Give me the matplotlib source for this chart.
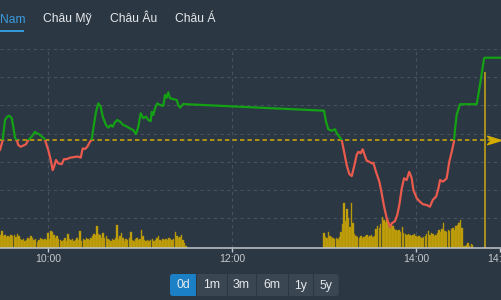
import matplotlib
matplotlib.use("Agg")
import matplotlib.pyplot as plt
from matplotlib.patches import Rectangle, FancyBboxPatch
from matplotlib.path import Path

# ---------------- data ----------------
# time in minutes after 09:00, price in index points (grid step = 1)
price_time = [28.7, 30.45, 31.96, 33.46, 34.76, 36.33, 37.37, 38.48, 39.59, 40.63,
              42.19, 43.89, 45.65, 47.15, 49.37, 51.52, 52.63, 54.33, 55.89, 57.39,
              58.04, 60.20, 61.76, 63.07, 63.91, 65.22, 66.72, 68.94, 70.44, 72.20,
              74.35, 77.61, 79.76, 81.33, 82.63, 84.13, 85.63, 87.39, 88.50, 89.54,
              91.31, 92.81, 94.37, 95.68, 97.83, 99.33, 100.89, 102.20, 103.70, 105.20,
              106.96, 109.11, 110.22, 113.48, 115.63, 117.39, 118.89, 120.46, 122.15, 123.91,
              125.41, 126.98, 127.63, 128.67, 129.78, 131.28, 133.04, 135.20, 136.31, 137.41,
              138.46, 139.57, 141.72, 143.94, 144.98, 146.09, 147.20, 148.24, 150.0,
              240.0, 241.3, 242.8, 245.0, 247.2, 248.3, 250.0, 251.6, 253.1, 254.8,
              256.5, 258.1, 259.6, 261.3, 262.4, 263.9, 265.2, 266.7, 267.9, 269.5,
              271.1, 272.2, 273.9, 276.1, 277.6, 279.1, 280.9, 283.1, 284.2, 286.3,
              287.8, 289.1, 290.7, 292.2, 293.9, 295.6, 297.2, 298.3, 300.5, 302.2,
              304.4, 307.0, 309.1, 310.9, 313.1, 314.6, 315.7, 317.4, 318.9, 320.0,
              321.7, 323.3, 324.8, 325.4, 326.5, 328.7, 339.6, 341.7, 344.4, 345.0, 355.4]
price = [2.41, 2.77, 3.48, 3.60, 3.63, 3.55, 3.24, 2.84, 2.77, 2.59,
         2.53, 2.57, 2.62, 2.77, 2.89, 3.06, 3.01, 2.97, 2.89, 2.83,
         2.77, 2.41, 2.06, 1.70, 1.82, 2.06, 1.94, 1.91, 2.09, 2.09,
         2.14, 2.17, 2.18, 2.14, 2.47, 2.45, 2.53, 2.71, 2.77, 3.18,
         3.77, 4.07, 3.95, 3.60, 3.30, 3.21, 3.30, 3.24, 3.40, 3.48,
         3.42, 3.30, 3.28, 3.18, 3.12, 2.98, 3.24, 3.72, 3.54, 3.60,
         3.48, 3.44, 3.77, 3.66, 3.89, 4.07, 4.01, 3.98, 4.37, 4.27,
         4.46, 4.25, 4.22, 4.19, 4.01, 3.92, 3.98, 4.05, 4.04,
         3.81, 3.42, 3.15, 3.10, 3.15, 3.01, 2.89, 2.76, 2.35, 1.88,
         1.56, 1.49, 1.82, 2.24, 2.35, 2.30, 2.44, 2.20, 2.03, 2.00,
         1.94, 1.96, 1.64, 1.29, 0.88, 0.43, -0.01, -0.31, -0.19, -0.11,
         0.11, 0.46, 1.05, 1.41, 1.35, 1.64, 1.41, 0.99, 0.70, 0.60,
         0.49, 0.46, 0.40, 0.64, 0.76, 1.05, 1.35, 1.29, 1.35, 1.41,
         2.00, 2.35, 2.73, 3.12, 3.66, 4.04, 4.04, 4.72, 5.67, 5.69, 5.69]
ref_price = 2.77

vol_morning_start = 29
vol_morning = [13, 17, 12, 13, 11, 12, 11, 13, 12, 13, 11, 14, 12, 9, 8, 9, 7, 8, 10, 9,
               12, 10, 8, 9, 6, 8, 10, 9, 8, 9, 8, 15, 9, 17, 16, 13, 10, 12, 9, 8,
               7, 8, 10, 7, 14, 9, 8, 9, 7, 8, 10, 8, 17, 7, 9, 8, 10, 9, 8, 10,
               12, 14, 13, 22, 14, 13, 10, 15, 10, 12, 9, 8, 7, 9, 8, 10, 23, 9, 12, 15,
               10, 7, 9, 8, 10, 16, 8, 7, 9, 10, 8, 9, 18, 12, 8, 7, 8, 7, 8, 9,
               7, 8, 10, 12, 8, 7, 9, 8, 9, 8, 10, 9, 8, 9, 16, 12, 10, 11, 13, 8,
               5, 2]
vol_afternoon_start = 240
vol_afternoon = [15, 11, 10, 16, 12, 11, 10, 9, 10, 9, 11, 16, 24, 45, 27, 39, 30, 21, 45, 25,
                 14, 12, 11, 10, 12, 10, 11, 12, 13, 11, 12, 13, 11, 12, 19, 22, 20, 24, 31, 28,
                 26, 29, 22, 20, 25, 22, 19, 18, 17, 18, 16, 21, 15, 14, 13, 14, 13, 12, 13, 14,
                 12, 11, 12, 11, 10, 11, 12, 14, 17, 13, 15, 14, 12, 13, 15, 18, 16, 19, 25, 17,
                 16, 18, 17, 19, 20, 18, 22, 23, 25, 28, 20, 2, 2, 3, 5, 2, 4, 3]
atc_time = 345
atc_volume = 176

tick_minutes = [60, 180, 300, 355]
tick_labels = ["10:00", "12:00", "14:00", "14:55"]
grid_minutes = [60, 180, 300]
grid_prices = [0, 1, 2, 3, 4, 5, 6]
tabs = ["Việt Nam", "Châu Mỹ", "Châu Âu", "Châu Á"]
buttons = ["0d", "1m", "3m", "6m", "1y", "5y"]

# ---------------- style ----------------
BG = "#2b3743"
GRID = "#46525e"
GREEN = "#14a114"
RED = "#ea5a4d"
GOLD = "#c6a30d"
REF = "#c9a404"
AXIS = "#c3c8cd"
TEXT = "#e6e9ec"
BLUE = "#3a9be0"
FONT = ["Liberation Sans", "DejaVu Sans"]
plt.rcParams["font.family"] = FONT

W, H = 501, 300
XMIN, XMAX = 28.696, 355.43
fig = plt.figure(figsize=(W / 100, H / 100), dpi=100)
fig.patch.set_facecolor(BG)
pos = [0, 52 / H, 1, 199 / H]

# grid axes (background)
axg = fig.add_axes(pos)
axg.set_facecolor(BG)
axg.set_xlim(XMIN, XMAX)
axg.set_ylim(-1.065, 6.0)
for gp in grid_prices:
    axg.axhline(gp, color=GRID, lw=0.8, ls=(0, (3, 3)), zorder=1)
for gm in grid_minutes:
    axg.axvline(gm, color=GRID, lw=0.8, ls=(0, (3, 3)), zorder=1)
axg.axis("off")

# volume axes
axv = fig.add_axes(pos)
axv.patch.set_visible(False)
axv.set_xlim(XMIN, XMAX)
axv.set_ylim(0, 199)
mt = [vol_morning_start + i for i in range(len(vol_morning))]
at = [vol_afternoon_start + i for i in range(len(vol_afternoon))]
axv.bar(mt, vol_morning, width=0.92, color=GOLD, edgecolor="#a88b08", linewidth=0.3)
axv.bar(at, vol_afternoon, width=0.92, color=GOLD, edgecolor="#a88b08", linewidth=0.3)
axv.bar([atc_time], [atc_volume], width=1.3, color="#a68e1e", linewidth=0)
for s in ["top", "left", "right"]:
    axv.spines[s].set_visible(False)
axv.spines["bottom"].set_color(AXIS)
axv.spines["bottom"].set_linewidth(1.1)
axv.set_yticks([])
axv.set_xticks(tick_minutes)
axv.set_xticklabels(tick_labels)
axv.tick_params(axis="x", colors=AXIS, length=3, width=1, labelsize=7.6, pad=1.5)

# price axes
ax = fig.add_axes(pos)
ax.patch.set_visible(False)
ax.set_xlim(XMIN, XMAX)
ax.set_ylim(-1.065, 6.0)
ax.axis("off")
ax.axhline(ref_price, color=REF, lw=1.2, ls=(0, (2.6, 1.9)), zorder=2)
gl, = ax.plot(price_time, price, color=GREEN, lw=1.6, zorder=3,
              solid_joinstyle="round", solid_capstyle="round")
gl.set_clip_path(Rectangle((0, ref_price), 1000, 100, transform=ax.transData))
rl, = ax.plot(price_time, price, color=RED, lw=1.6, zorder=3,
              solid_joinstyle="round", solid_capstyle="round")
rl.set_clip_path(Rectangle((0, ref_price - 100), 1000, 100, transform=ax.transData))
arrow = Path([(-1, -0.6), (1, 0), (-1, 0.6), (-0.45, 0), (-1, -0.6)],
             [Path.MOVETO, Path.LINETO, Path.LINETO, Path.LINETO, Path.CLOSEPOLY])
ax.plot([350.9], [ref_price], marker=arrow, ms=10, color="#d4ac00", mec="#d4ac00",
        zorder=4, clip_on=False)

# UI overlay (tabs and range buttons), in pixel coordinates
ui = fig.add_axes([0, 0, 1, 1])
ui.set_xlim(0, W)
ui.set_ylim(H, 0)
ui.axis("off")
ui.patch.set_visible(False)

tab_x = [25.5, 43, 110, 175]
for i, (t, x) in enumerate(zip(tabs, tab_x)):
    ui.text(x, 19, t, ha="right" if i == 0 else "left", va="center",
            fontsize=8.7, color=BLUE if i == 0 else TEXT)
ui.add_patch(Rectangle((-2, 29.5), 26, 2, color="#3498db", lw=0))

edges = [170, 196, 226.7, 256, 287.7, 312.7, 338.7]
y0, y1 = 274, 296
ui.add_patch(FancyBboxPatch((edges[0], y0), edges[-1] - edges[0], y1 - y0,
                            boxstyle="round,pad=0,rounding_size=3",
                            fc="#3a4652", ec="none"))
ui.add_patch(FancyBboxPatch((edges[0], y0), edges[1] - edges[0], y1 - y0,
                            boxstyle="round,pad=0,rounding_size=3",
                            fc="#1b80c6", ec="none"))
ui.add_patch(Rectangle((edges[1] - 3, y0), 3, y1 - y0, fc="#1b80c6", ec="none"))
for e in edges[1:-1]:
    ui.plot([e, e], [y0, y1], color=BG, lw=0.8)
for i, b in enumerate(buttons):
    cx = (edges[i] + edges[i + 1]) / 2
    ui.text(cx, 285.5, b, ha="center", va="center", fontsize=8.8, color=TEXT)

fig.savefig("out.png", dpi=100, facecolor=BG)
